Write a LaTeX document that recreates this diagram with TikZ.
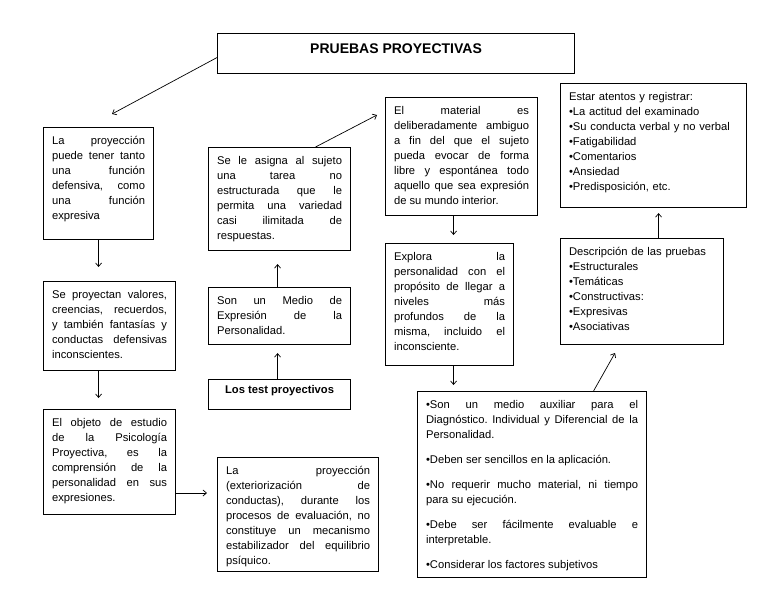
\documentclass[tikz,border=0pt]{standalone}
\usepackage{fontspec}
\setmainfont{Liberation Sans}
\usetikzlibrary{arrows.meta}
\begin{document}
\begin{tikzpicture}[x=1pt,y=-1pt,
  bx/.style n args={2}{draw, line width=1.1pt, anchor=north west, inner xsep=8.5pt, inner ysep=7pt,
    text width=#1pt-17pt, text height=9.5pt, text depth=#2pt-23.5pt, align=justify,
    font=\fontsize{11.2}{15}\selectfont, execute at begin node={\frenchspacing\hyphenpenalty=10000\exhyphenpenalty=10000\tolerance=10000\hbadness=10000}},
  arr/.style={line width=0.7pt, -{Straight Barb[length=3.5pt,width=6pt]}}]
\useasboundingbox (0,0) rectangle (768,594);
\node[draw, line width=1.1pt, anchor=north west, minimum width=357pt, inner sep=0pt,
  text height=20pt, text depth=20pt, font=\fontsize{14}{16}\selectfont\bfseries] (title) at (217,33) {\makebox[357pt]{PRUEBAS PROYECTIVAS}};
\node[bx={110}{112}] (b1) at (43,127) {La proyección\linebreak puede tener tanto\linebreak una función\linebreak defensiva, como\linebreak una función\linebreak expresiva};
\node[bx={132}{89}] (proj) at (43,281) {Se proyectan valores,\linebreak creencias, recuerdos,\linebreak y también fantasías y\linebreak conductas defensivas\linebreak inconscientes.};
\node[bx={132}{105}] (obj) at (43,409) {El objeto de estudio\linebreak de la Psicología\linebreak Proyectiva, es la\linebreak comprensión de la\linebreak personalidad en sus\linebreak expresiones.};
\node[bx={161}{114}] (lp) at (217,457) {La proyección\linebreak (exteriorización de\linebreak conductas), durante los\linebreak procesos de evaluación, no\linebreak constituye un mecanismo\linebreak estabilizador del equilibrio\linebreak psíquico.};
\node[bx={142}{103}] (asig) at (208,147) {Se le asigna al sujeto\linebreak una tarea no\linebreak estructurada que le\linebreak permita una variedad\linebreak casi ilimitada de\linebreak respuestas.};
\node[bx={142}{57}] (son) at (208,287) {Son un Medio de\linebreak Expresión de la\linebreak Personalidad.};
\node[draw, line width=1.1pt, anchor=north west, minimum width=142pt, inner sep=0pt,
  text height=14pt, text depth=16pt, font=\fontsize{11.2}{15}\selectfont\bfseries] (test) at (208,379) {\makebox[142pt]{Los test proyectivos}};
\node[bx={152}{118}] (mat) at (385,97) {El material es\linebreak deliberadamente ambiguo\linebreak a fin del que el sujeto\linebreak pueda evocar de forma\linebreak libre y espontánea todo\linebreak aquello que sea expresión\linebreak de su mundo interior.};
\node[bx={128}{122}] (expl) at (385,243) {Explora la\linebreak personalidad con el\linebreak propósito de llegar a\linebreak niveles más\linebreak profundos de la\linebreak misma, incluido el\linebreak inconsciente.};
\node[bx={186}{124}, align=left] (est) at (560,83) {Estar atentos y registrar:\\•La actitud del examinado\\•Su conducta verbal y no verbal\\•Fatigabilidad\\•Comentarios\\•Ansiedad\\•Predisposición, etc.};
\node[bx={163}{106}, align=left] (desc) at (560,238) {Descripción de las pruebas\\•Estructurales\\•Temáticas\\•Constructivas:\\•Expresivas\\•Asociativas};
\node[bx={229}{186}] (br) at (417,391) {\parskip=10pt •Son un medio auxiliar para el\linebreak Diagnóstico. Individual y Diferencial de la\linebreak Personalidad.\par
•Deben ser sencillos en la aplicación.\par
•No requerir mucho material, ni tiempo\linebreak para su ejecución.\par
•Debe ser fácilmente evaluable e\linebreak interpretable.\par
•Considerar los factores subjetivos};
% connectors
\coordinate (c1) at (112,114);
\draw[arr] ([yshift=-4pt]title.west) -- (c1);
\draw[arr] (b1.south) -- ([yshift=14pt]b1.south |- proj.north);
\coordinate (c4) at (207,493);
\draw[arr] (b1.south |- proj.south) -- ([yshift=11pt]b1.south |- obj.north);
\draw[arr] (obj.east |- c4) -- (c4);
\draw[arr] ([xshift=-2pt]test.north) -- ([xshift=-2pt,yshift=-8pt]son.south);
\draw[arr] ([xshift=-2pt]son.north) -- ([xshift=-2pt,yshift=-13pt]asig.south);
\coordinate (c7) at (377,115);
\draw[arr] ([xshift=36pt]asig.north) -- (c7);
\draw[arr] ([xshift=-8pt]mat.south) -- ([xshift=4pt,yshift=8pt]expl.north);
\draw[arr] ([xshift=4pt]expl.south) -- ([xshift=4pt,yshift=6pt]expl.south |- br.north);
\coordinate (c10) at (615,353);
\draw[arr] ([xshift=61.5pt]br.north) -- (c10);
\draw[arr] ([xshift=16.5pt]desc.north) -- ([xshift=16.5pt,yshift=-5pt]desc.north |- est.south);
\end{tikzpicture}
\end{document}
